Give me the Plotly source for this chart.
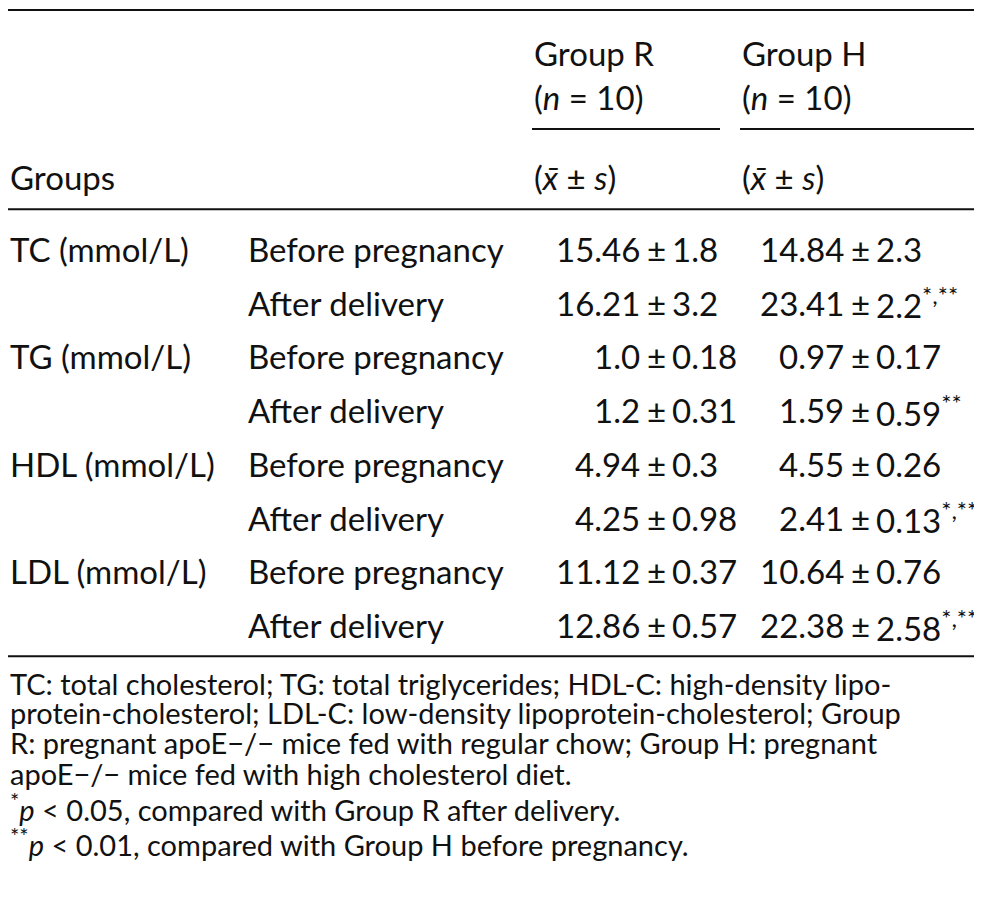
import plotly.graph_objects as go

# table content
measures = ["TC (mmol/L)", "TG (mmol/L)", "HDL (mmol/L)", "LDL (mmol/L)"]
phases = ["Before pregnancy", "After delivery"]
r_mean = ["15.46", "16.21", "1.0", "1.2", "4.94", "4.25", "11.12", "12.86"]
r_sd = ["1.8", "3.2", "0.18", "0.31", "0.3", "0.98", "0.37", "0.57"]
h_mean = ["14.84", "23.41", "0.97", "1.59", "4.55", "2.41", "10.64", "22.38"]
h_sd = ["2.3", "2.2", "0.17", "0.59", "0.26", "0.13", "0.76", "2.58"]
h_sig = ["", "*,**", "", "**", "", "*,**", "", "*,**"]
footnotes = [
    "TC: total cholesterol; TG: total triglycerides; HDL-C: high-density lipo-",
    "protein-cholesterol; LDL-C: low-density lipoprotein-cholesterol; Group",
    "R: pregnant apoE\u2212/\u2212 mice fed with regular chow; Group H: pregnant",
    "apoE\u2212/\u2212 mice fed with high cholesterol diet.",
    "<sup><span style='font-size:22px'>*</span></sup><i>p</i> < 0.05, compared with Group R after delivery.",
    "<sup><span style='font-size:22px'>**</span></sup><i>p</i> < 0.01, compared with Group H before pregnancy.",
]

FONT = "Lato"
fs = 33
fig = go.Figure()
ann = []
L = 8  # left edge (page body has a small margin)


def txt(x, y, s, anchor="left", size=fs):
    ann.append(dict(x=x, y=y, text=s, xref="x", yref="y", showarrow=False,
                    xanchor=anchor, yanchor="middle",
                    font=dict(family=FONT, size=size, color="#111")))


# header
txt(532, 45, "Group R")
txt(532, 90, "(<i>n</i> = 10)")
txt(740, 45, "Group H")
txt(740, 90, "(<i>n</i> = 10)")
txt(L, 170, "Groups")
txt(532, 170, "(<i>x\u0304</i> ± <i>s</i>)")
txt(740, 170, "(<i>x\u0304</i> ± <i>s</i>)")

# body
y0, dy = 243, 54.2
for i in range(len(r_mean)):
    y = y0 + i * dy
    if i % 2 == 0:
        txt(L, y, measures[i // 2])
    txt(246, y, phases[i % 2])
    txt(642, y, r_mean[i], "right")
    txt(656, y, "±", "center")
    txt(670, y, r_sd[i])
    txt(846, y, h_mean[i], "right")
    txt(860, y, "±", "center")
    sig = f"<sup><span style='font-size:24px'>{h_sig[i]}</span></sup>" if h_sig[i] else ""
    txt(874, y, h_sd[i] + sig)

fy = [681, 711, 741, 772, 806, 841]
for y, s in zip(fy, footnotes):
    txt(L, y, s, size=29)

shapes = []
for x1, x2, y, w in [(L, 990, 2, 2), (532, 720, 122, 2), (740, 990, 122, 2),
                     (L, 990, 203, 2), (L, 990, 654, 2)]:
    shapes.append(dict(type="line", x0=x1, x1=x2, y0=y, y1=y, xref="x", yref="y",
                       line=dict(color="#111", width=w)))

fig.update_layout(width=982, height=920, margin=dict(l=0, r=0, t=0, b=0),
                  plot_bgcolor="white", paper_bgcolor="white",
                  annotations=ann, shapes=shapes,
                  xaxis=dict(range=[8, 990], visible=False, fixedrange=True),
                  yaxis=dict(range=[928, 0], visible=False, fixedrange=True))
fig.write_html("out.html")
